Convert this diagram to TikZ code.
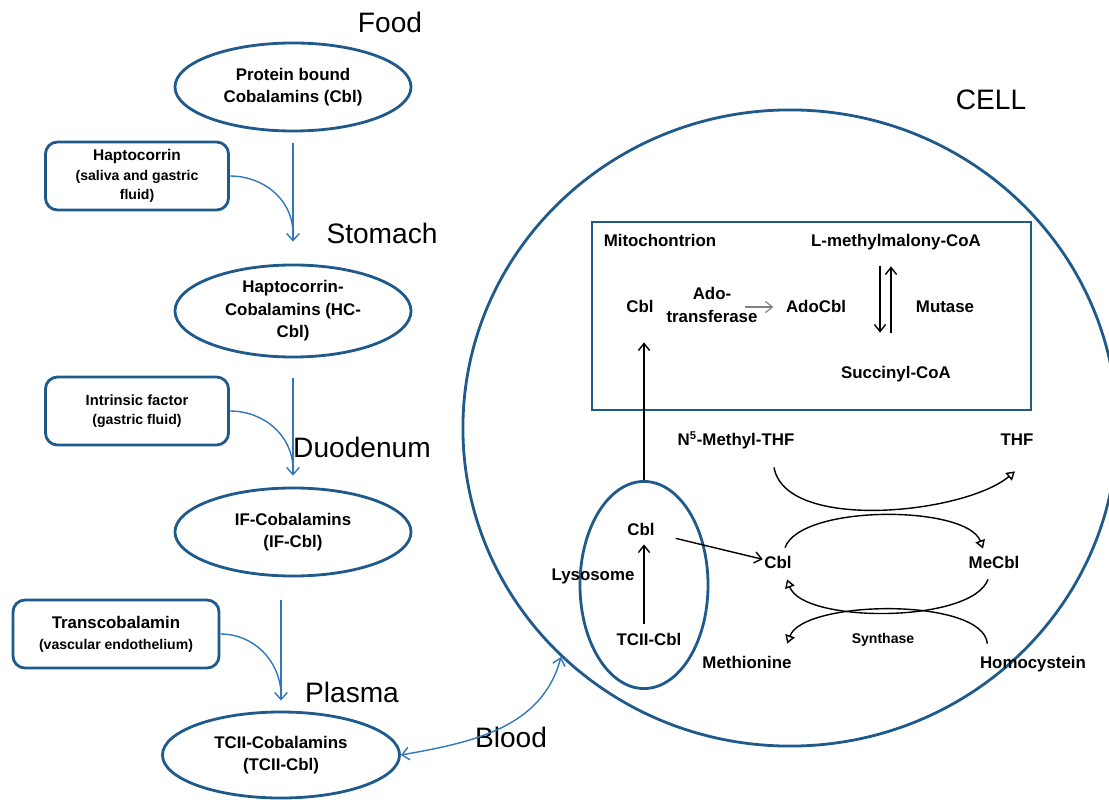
\documentclass[tikz,border=0pt]{standalone}
\usepackage{fontspec}
\setmainfont{Liberation Sans}
\usetikzlibrary{shapes.geometric,arrows.meta,calc}
\definecolor{cellblue}{RGB}{31,90,138}
\definecolor{flowblue}{RGB}{48,120,190}

\begin{document}
\begin{tikzpicture}[x=0.025cm,y=-0.025cm]
  \tikzstyle{stage}=[font=\fontsize{20}{24}\selectfont, text height=1.6ex, text depth=0.2ex, inner sep=0pt]
  \tikzstyle{pool}=[ellipse, draw=cellblue, line width=2pt, minimum width=5.9cm, minimum height=2.2cm, inner sep=0pt, align=center, font=\bfseries\fontsize{12}{16}\selectfont]
  \tikzstyle{carrier}=[rectangle, rounded corners=0.3cm, draw=cellblue, line width=2pt, minimum height=1.7cm, inner sep=2pt, align=center, font=\bfseries\fontsize{10}{14}\selectfont]
  \tikzstyle{wall}=[draw=cellblue, line width=2pt, inner sep=0pt]
  \tikzstyle{chemtext}=[font=\bfseries\fontsize{12}{16}\selectfont, inner sep=1pt]
  \tikzstyle{chem}=[chemtext, text height=1.6ex, text depth=0.2ex]
  \tikzstyle{flow}=[flowblue, line width=1pt, -{Straight Barb[length=5pt,width=9pt]}]
  \tikzstyle{feed}=[flowblue, line width=1pt]
  \tikzstyle{twoway}=[flowblue, line width=1pt, {Straight Barb[length=5pt,width=9pt]}-{Straight Barb[length=5pt,width=9pt]}]
  \tikzstyle{react}=[line width=1pt, -{Straight Barb[length=5pt,width=8pt]}]
  \tikzstyle{cyc}=[line width=1pt, -{Triangle[open,length=6pt,width=7pt]}]

  \useasboundingbox (0,0) rectangle (1109,800);

  \node[stage] (food) at (390,27) {Food};
  \node[pool] (pcbl) at (293,87) {Protein bound\\Cobalamins (Cbl)};
  \node[carrier, minimum width=4.575cm] (hapto) at (137,176) {{\fontsize{11}{14}\selectfont Haptocorrin}\\(saliva and gastric\\fluid)};
  \node[stage] (stomach) at (382,238) {Stomach};
  \node[pool, minimum height=2.3cm] (hccbl) at (293,311) {Haptocorrin-\\Cobalamins (HC-\\Cbl)};
  \node[carrier, minimum width=4.575cm] (intr) at (137,411) {{\fontsize{10.5}{14}\selectfont Intrinsic factor}\\(gastric fluid)};
  \node[stage] (duod) at (362,452) {Duodenum};
  \node[pool] (ifcbl) at (293,532) {IF-Cobalamins\\(IF-Cbl)};
  \node[carrier, minimum width=5.15cm, font=\bfseries\fontsize{10}{15}\selectfont] (transc) at (116,634) {{\fontsize{12}{15}\selectfont Transcobalamin}\\(vascular endothelium)};
  \node[stage] (plasma) at (352,697) {Plasma};
  \node[pool, minimum width=5.925cm, minimum height=2.15cm] (tccbl) at (281,755) {TCII-Cobalamins\\(TCII-Cbl)};
  \node[stage] (blood) at (511,742) {Blood};

  \draw[flow, shorten <=0.275cm, shorten >=0.55cm] (pcbl) -- (hccbl);
  \draw[feed] (hapto.east) to[out=0, in=92] ($(hccbl.north)+(0,-32)$);
  \draw[flow, shorten <=0.5cm, shorten >=0.275cm] (hccbl) -- (ifcbl);
  \draw[feed] (intr.east) to[out=0, in=92] ($(ifcbl.north)+(0,-19)$);
  \draw[flow, shorten <=0.575cm, shorten >=0.25cm] (tccbl.north |- ifcbl.south) -- (tccbl.north);
  \draw[feed] (transc.east) to[out=0, in=92] ($(tccbl.north)+(0,-17)$);

  \node[stage] (celllbl) at (991,104) {CELL};
  \node[wall, ellipse, minimum width=16.35cm, minimum height=15.9cm] (cell) at (790,428) {};
  \node[wall, rectangle, minimum width=10.975cm, minimum height=4.7cm] (mito) at (811.5,316) {};
  \node[wall, ellipse, minimum width=3.2cm, minimum height=5.175cm] (lyso) at (644,585) {};

  \draw[twoway] (tccbl.east) to[out=10, in=255] (cell.225);

  \node[chem] (mitolbl) at (660,241) {Mitochontrion};
  \node[chem] (lmm) at (896,241) {L-methylmalony-CoA};
  \node[chem] (cblm) at (640,307) {Cbl};
  \node[chemtext, align=center] (ado) at (712,305) {Ado-\\transferase};
  \node[chem] (adocbl) at (816,307) {AdoCbl};
  \node[chem] (mutase) at (945,307) {Mutase};
  \node[chem] (succ) at (896,373) {Succinyl-CoA};
  \node[chem] (nmthf) at (736,440) {N\textsuperscript{5}-Methyl-THF};
  \node[chem] (thf) at (1017,440) {THF};
  \node[chem] (cbll) at (641,530) {Cbl};
  \node[chem] (lysolbl) at (593,575) {Lysosome};
  \node[chem] (tcii) at (649,640) {TCII-Cbl};
  \node[chem] (cblc) at (778,563) {Cbl};
  \node[chem] (mecbl) at (994,563) {MeCbl};
  \node[chem, font=\bfseries\fontsize{10}{12}\selectfont] (synth) at (883,638) {Synthase};
  \node[chem] (meth) at (747,663) {Methionine};
  \node[chem] (homo) at (1033,663) {Homocystein};

  \draw[react, gray, line width=0.8pt, shorten <=-0.35cm, shorten >=0.275cm] (ado.east |- adocbl) -- (adocbl.west);
  \draw[react] ($(lmm.south)+(-16,17)$) -- ($(succ.north)+(-16,-32)$);
  \draw[react] ($(succ.north)+(-5,-32)$) -- ($(lmm.south)+(-5,17)$);
  \draw[react, shorten >=0.675cm] (lyso.north) -- (lyso.north |- cblm.south);
  \draw[react, shorten <=0.2cm, shorten >=0.15cm] (tcii.north -| lyso) -- (cbll.south -| lyso);
  \draw[react, shorten <=0.5cm] (cbll) -- (cblc);
  \draw[cyc] ($(nmthf.south)+(38,19)$) to[out=-80, in=220, looseness=0.7] ($(thf.south)+(-2,23)$);
  \draw[cyc] ($(cblc.north)+(7,-7)$) to[out=70, in=110, looseness=0.6] ($(mecbl.north)+(-11,-6)$);
  \draw[cyc] ($(mecbl.south)+(-6,8)$) to[out=-110, in=-70, looseness=0.6] ($(cblc.south)+(9,8)$);
  \draw[cyc] ($(homo.north west)+(9,-11)$) to[out=95, in=70, looseness=0.6] ($(meth.north east)+(-6,-11)$);
\end{tikzpicture}
\end{document}
